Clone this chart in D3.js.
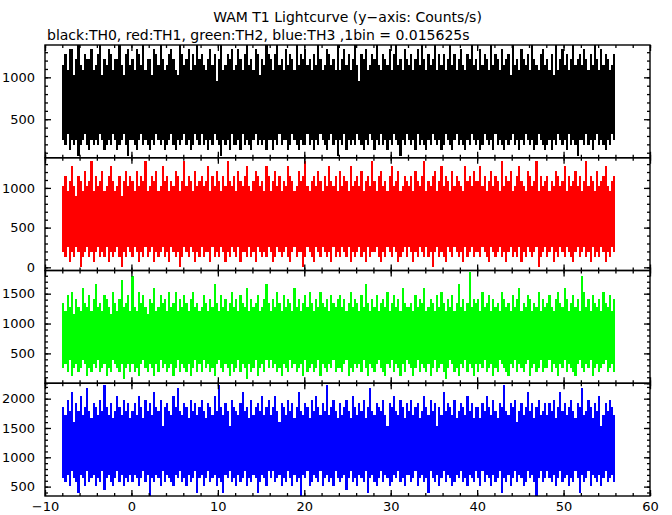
<!DOCTYPE html>
<html><head><meta charset="utf-8">
<script src="https://cdn.jsdelivr.net/npm/d3@7"></script>
<style>body{margin:0;background:#fff}svg{display:block}</style>
</head><body><svg id="c" width="672" height="515"></svg>
<script>
// ---- data (counts per bin, summarised per 0.25 s window: highest and lowest bin) ----
const BIN = 0.015625;           // s per bin
const T_START = -8, T_END = 56; // time span of the light curve (s)
const title = "WAM T1 Lightcurve (y\u2212axis: Counts/s)";
const subtitle = "black:TH0, red:TH1, green:TH2, blue:TH3 ,1bin = 0.015625s";
const xTicks = [-10, 0, 10, 20, 30, 40, 50, 60];
const seriesNames = ["TH0", "TH1", "TH2", "TH3"];
const seriesColors = ["#000000", "#ff0000", "#00ff00", "#0000ff"];
const yDomains = [[40, 1386], [-40, 1380], [0, 1888], [340, 2263]];
const yTickLabels = [[500, 1000], [0, 500, 1000], [500, 1000, 1500], [500, 1000, 1500, 2000]];

const th0Hi = [
18,20,17,21,21,16,19,22,18,17,20,19,19,21,17,18,20,22,16,19,18,21,20,17,19,19,22,18,16,20,21,18,
19,17,21,20,18,22,17,19,19,16,21,20,18,22,19,17,18,20,21,19,17,16,22,20,18,19,21,17,20,18,22,19,
20,18,17,19,21,18,20,15,19,22,17,18,20,19,21,17,18,21,19,17,20,22,18,19,17,21,20,16,19,18,22,20,
19,17,20,22,18,19,17,21,18,20,19,17,22,18,20,19,21,18,19,17,20,18,22,19,17,18,21,20,18,19,17,22,
17,19,21,18,20,17,19,22,18,15,20,19,21,17,18,20,19,22,18,17,20,19,18,21,17,20,22,18,19,17,21,19,
18,20,17,19,21,18,22,19,17,20,18,19,22,17,20,18,20,17,19,22,18,20,17,19,21,18,17,20,19,22,18,19,
17,21,18,20,19,17,22,18,20,19,17,21,18,19,20,16,22,18,19,17,21,19,18,20,17,22,19,18,17,20,21,18,
19,17,20,16,22,17,19,21,18,20,17,19,22,18,19,20,18,21,19,17,20,18,22,19,17,21,18,20,19,17,18,20];
const th0Lo = [
4,3,5,2,4,3,4,1,3,4,5,3,2,4,3,4,3,5,4,2,3,4,3,5,4,2,3,4,5,3,1,4,
4,3,2,4,5,3,4,3,2,4,3,5,4,3,4,2,3,4,5,3,2,4,3,4,5,3,4,2,3,5,4,3,
5,3,4,2,4,3,5,4,3,1,4,3,4,2,5,3,3,4,2,5,3,4,3,2,4,5,3,4,3,4,2,4,
4,2,4,3,5,3,4,4,2,3,5,4,3,2,4,3,3,5,3,4,2,4,3,5,4,3,2,4,5,3,4,1,
4,3,5,2,4,3,4,3,5,4,3,2,4,3,5,4,2,4,3,5,3,4,2,4,3,5,4,3,1,4,3,5,
4,3,4,2,5,3,4,3,2,4,3,5,4,3,4,2,3,5,4,3,2,4,5,3,4,3,2,4,3,5,4,3,
4,2,3,5,4,3,4,2,5,3,4,3,2,4,3,4,5,3,4,2,4,3,5,4,3,4,2,3,5,4,3,2,
3,4,2,4,3,5,4,3,4,2,5,3,4,3,1,4,4,3,5,3,4,2,4,5,3,4,3,2,4,3,5,4];

const th1Hi = [
16,18,15,17,20,16,14,18,17,15,19,16,17,21,15,18,16,17,19,15,16,18,20,17,15,16,18,14,17,19,16,18,
17,15,19,16,18,17,21,15,16,18,17,19,15,16,20,17,18,15,17,16,19,18,15,17,21,16,18,17,15,19,16,17,
18,16,17,20,15,18,16,19,17,15,18,16,21,17,16,18,15,19,17,16,18,20,16,15,17,19,18,16,17,15,20,18,
15,17,19,16,18,15,17,16,20,18,17,15,16,19,17,18,21,16,15,17,18,16,19,17,15,18,16,20,17,16,18,15,
19,16,18,17,15,20,16,17,18,16,19,15,17,18,16,21,17,15,18,19,16,17,15,18,20,16,17,19,15,16,18,17,
16,18,15,19,17,16,18,21,15,17,16,18,19,15,17,20,16,18,17,15,19,16,18,17,16,15,20,17,18,16,19,17,
17,20,16,18,15,17,19,16,18,17,15,21,16,18,17,19,15,16,18,20,17,16,15,19,18,16,17,21,15,18,16,17,
18,15,17,16,19,18,16,17,20,15,18,16,17,19,16,18,15,17,21,16,18,17,15,19,16,17,18,20,16,15,17,18];
const th1Lo = [
3,2,4,1,3,2,4,3,0,2,3,4,2,3,1,3,4,2,3,2,4,1,3,2,3,4,2,0,3,2,4,3,
2,4,3,1,3,2,4,2,3,4,1,3,2,3,4,2,3,1,4,3,2,3,0,2,4,3,2,4,3,1,3,2,
4,2,3,3,1,4,2,3,2,4,3,1,3,2,4,3,2,4,1,3,3,2,4,2,3,1,4,3,2,3,2,4,
3,1,2,4,3,2,3,4,2,1,3,4,2,3,3,0,2,4,3,2,1,4,3,2,4,3,2,3,1,4,2,3,
2,4,3,2,4,1,3,2,3,4,2,3,1,4,2,3,3,4,2,1,3,2,4,3,2,4,3,1,2,3,4,2,
4,3,1,3,2,4,3,2,4,2,3,0,3,4,2,3,2,1,4,3,2,4,3,2,3,1,4,2,3,4,2,3,
3,2,4,3,2,1,4,3,2,3,4,2,3,1,3,4,2,3,2,4,1,3,2,4,3,2,3,4,0,2,3,4,
2,3,4,1,3,2,4,3,2,4,3,2,1,3,4,2,3,4,2,3,1,4,2,3,2,4,3,1,3,2,4,3];

const th2Hi = [
21,19,23,20,24,18,22,20,19,25,21,20,23,19,22,26,20,21,19,23,22,20,18,24,21,19,22,27,20,21,23,19,
28,20,19,24,21,23,20,18,22,21,25,19,20,23,21,22,19,24,20,21,24,19,22,20,23,21,19,22,24,20,21,19,
20,23,21,19,22,20,26,21,19,23,20,22,19,21,24,20,22,19,23,21,20,25,19,22,20,21,23,19,20,22,26,21,
19,22,20,24,21,19,23,20,22,21,19,25,20,22,19,21,23,20,24,21,19,22,20,24,21,20,22,19,23,21,20,22,
23,20,22,19,21,24,20,22,21,19,23,20,26,21,19,22,20,23,19,21,22,20,24,19,21,23,20,22,19,25,21,20,
20,21,19,23,20,22,21,25,19,20,22,21,19,23,20,24,21,19,22,20,23,19,21,26,20,22,19,21,29,20,22,21,
22,19,24,20,21,23,19,22,20,21,19,24,22,20,21,19,23,20,22,25,19,21,20,23,22,19,21,20,24,19,22,20,
21,23,20,19,22,24,21,20,25,22,19,21,23,20,22,19,28,24,20,22,19,23,21,20,22,19,24,21,20,23,19,22];
const th2Lo = [
4,5,3,6,2,4,5,3,4,6,5,2,4,3,5,4,6,3,4,5,2,4,3,6,5,4,3,5,1,4,5,3,
5,3,4,2,5,6,4,3,5,4,2,5,3,6,4,5,3,4,5,2,4,6,3,5,4,3,5,2,4,6,3,5,
3,6,4,5,3,4,2,5,6,4,3,5,4,2,5,3,4,6,3,5,4,1,5,3,4,6,2,4,5,3,6,4,
6,4,5,3,4,2,5,4,3,6,4,5,3,4,5,2,6,3,4,5,3,4,6,2,5,4,3,5,4,6,3,4,
4,3,5,6,2,4,3,5,4,5,3,6,4,2,5,4,3,5,6,4,3,2,5,4,6,3,5,4,2,5,3,6,
5,4,2,4,6,3,5,4,3,5,2,4,6,3,4,5,3,1,4,6,5,3,4,2,5,4,6,3,5,4,2,5,
3,5,4,6,3,4,5,2,4,3,6,5,4,3,2,5,4,6,3,5,4,3,5,6,2,4,5,3,4,6,3,4,
4,6,3,5,4,2,5,4,6,3,5,4,3,2,5,6,4,3,5,4,6,2,4,5,3,4,5,6,3,4,5,3];

const th3Hi = [
29,27,31,28,33,25,30,28,32,27,29,34,28,26,30,29,27,31,28,35,29,27,30,26,28,32,29,27,31,28,30,26,
28,30,27,32,29,26,31,28,30,27,33,29,28,31,24,29,30,28,27,32,29,34,28,27,30,29,26,31,28,30,27,29,
31,28,26,30,29,27,32,28,35,29,27,30,28,24,31,29,28,27,30,33,28,29,26,31,27,29,30,28,32,27,29,31,
27,29,32,28,25,30,29,27,31,28,30,26,29,33,28,27,30,29,26,31,28,32,29,27,30,28,35,27,29,31,28,26,
30,27,29,31,28,26,32,29,27,30,28,31,26,29,34,28,27,30,29,28,31,27,24,30,29,32,28,27,31,29,26,30,
28,31,27,29,30,26,28,32,29,27,31,28,30,24,29,27,33,28,30,29,27,31,26,28,30,29,27,32,28,30,26,29,
29,26,30,28,32,29,27,31,28,26,30,29,35,28,27,30,29,31,25,28,30,27,29,33,28,30,26,29,31,27,28,30,
27,30,28,31,26,29,33,28,30,27,29,31,28,26,30,29,34,27,28,31,29,26,30,28,32,24,27,30,28,31,29,27];
const th3Lo = [
10,9,11,8,12,10,9,6,11,10,8,12,9,10,11,8,10,9,12,7,10,11,9,8,10,12,9,11,8,10,9,11,
9,11,10,8,10,12,9,11,5,10,9,11,10,8,12,9,11,10,9,8,11,10,12,9,10,8,11,9,10,12,6,10,
11,8,10,12,9,10,11,8,10,9,6,11,10,12,9,10,8,11,9,10,12,8,10,9,11,10,6,9,11,10,8,12,
10,12,9,10,11,8,10,9,12,10,8,11,9,10,5,11,10,12,8,9,11,10,9,12,8,10,11,9,10,8,12,10,
9,10,11,7,10,12,9,10,8,11,10,9,12,6,10,11,9,8,10,12,9,11,10,8,9,11,10,12,9,10,8,11,
11,9,10,12,8,10,11,9,10,6,12,10,9,11,8,10,12,9,11,10,8,9,11,10,12,9,10,8,11,10,9,12,
10,8,12,9,11,10,8,11,9,10,12,6,10,9,11,8,10,12,9,11,10,8,9,12,10,11,9,5,10,12,9,10,
12,10,9,11,8,10,12,9,10,11,8,10,9,12,10,6,11,9,10,12,8,11,10,9,11,8,10,12,9,10,11,9];

const seriesHi = [th0Hi, th1Hi, th2Hi, th3Hi];
const seriesLo = [th0Lo, th1Lo, th2Lo, th3Lo];

// ---- layout ----
const W = 672, H = 515;
const plotL = 45, plotR = 650, plotT = 45, plotB = 496;
const nP = 4, pH = (plotB - plotT) / nP;
const svg = d3.select("#c");
const FONT = "'DejaVu Sans', sans-serif";

const x = d3.scaleLinear().domain([xTicks[0], xTicks[xTicks.length - 1]]).range([plotL, plotR]);
const xMinor = d3.range(xTicks[0], xTicks[xTicks.length - 1] + 0.001, 2);

svg.append("text").attr("x", (plotL + plotR) / 2).attr("y", 22)
  .attr("text-anchor", "middle").attr("font-family", FONT).attr("font-size", 14)
  .text(title);
svg.append("text").attr("x", 47).attr("y", 40)
  .attr("font-family", FONT).attr("font-size", 14)
  .text(subtitle);

seriesNames.forEach((name, k) => {
  const top = plotT + k * pH, bot = top + pH;
  const y = d3.scaleLinear().domain(yDomains[k]).range([bot, top]);
  const g = svg.append("g").attr("class", "panel-" + name);

  g.append("clipPath").attr("id", "clip" + k)
    .append("rect").attr("x", plotL).attr("y", top).attr("width", plotR - plotL).attr("height", pH);

  const hi = seriesHi[k], lo = seriesLo[k];
  const n = hi.length, w = (T_END - T_START) / n;
  const pts = hi.map((h, i) => ({ t: T_START + i * w, hi: h / BIN, lo: lo[i] / BIN }));
  pts.push({ t: T_END, hi: hi[n - 1] / BIN, lo: lo[n - 1] / BIN });
  const area = d3.area().curve(d3.curveStepAfter)
    .x(d => x(d.t)).y0(d => y(d.lo)).y1(d => y(d.hi));
  g.append("path").datum(pts).attr("clip-path", "url(#clip" + k + ")")
    .attr("d", area).attr("fill", seriesColors[k]).attr("shape-rendering", "crispEdges");

  // frame
  g.append("rect").attr("x", plotL).attr("y", top).attr("width", plotR - plotL).attr("height", pH)
    .attr("fill", "none").attr("stroke", "#000").attr("stroke-width", 1.4);

  const d0 = yDomains[k][0], d1 = yDomains[k][1];
  const yMajor = d3.range(Math.ceil(d0 / 500) * 500, d1 + 0.001, 500);
  const yMinor = d3.range(Math.ceil(d0 / 100) * 100, d1 + 0.001, 100);

  const addAxis = (gen, tx, ty) => {
    const a = g.append("g").attr("transform", `translate(${tx},${ty})`).call(gen);
    a.select(".domain").remove();
    a.selectAll("line").attr("stroke", "#000").attr("stroke-width", 1.3);
    return a;
  };
  // x ticks top and bottom of each panel (inward)
  addAxis(d3.axisBottom(x).tickValues(xTicks).tickSize(-6).tickFormat(""), 0, bot);
  addAxis(d3.axisBottom(x).tickValues(xMinor).tickSize(-3).tickFormat(""), 0, bot);
  addAxis(d3.axisTop(x).tickValues(xTicks).tickSize(-6).tickFormat(""), 0, top);
  addAxis(d3.axisTop(x).tickValues(xMinor).tickSize(-3).tickFormat(""), 0, top);
  // y ticks
  const yl = addAxis(d3.axisLeft(y).tickValues(yTickLabels[k]).tickSize(-6).tickPadding(10).tickFormat(d3.format("d")), plotL, 0);
  yl.selectAll("text").attr("font-family", FONT).attr("font-size", 13).attr("fill", "#000");
  addAxis(d3.axisLeft(y).tickValues(yMinor).tickSize(-3).tickFormat(""), plotL, 0);
  addAxis(d3.axisRight(y).tickValues(yMajor).tickSize(-6).tickFormat(""), plotR, 0);
  addAxis(d3.axisRight(y).tickValues(yMinor).tickSize(-3).tickFormat(""), plotR, 0);

  if (k === nP - 1) {
    const xl = g.append("g").attr("transform", `translate(0,${bot})`)
      .call(d3.axisBottom(x).tickValues(xTicks).tickSize(0).tickPadding(6));
    xl.select(".domain").remove();
    xl.selectAll("text").attr("font-family", FONT).attr("font-size", 13).attr("fill", "#000");
  }
});
</script>
</body></html>
